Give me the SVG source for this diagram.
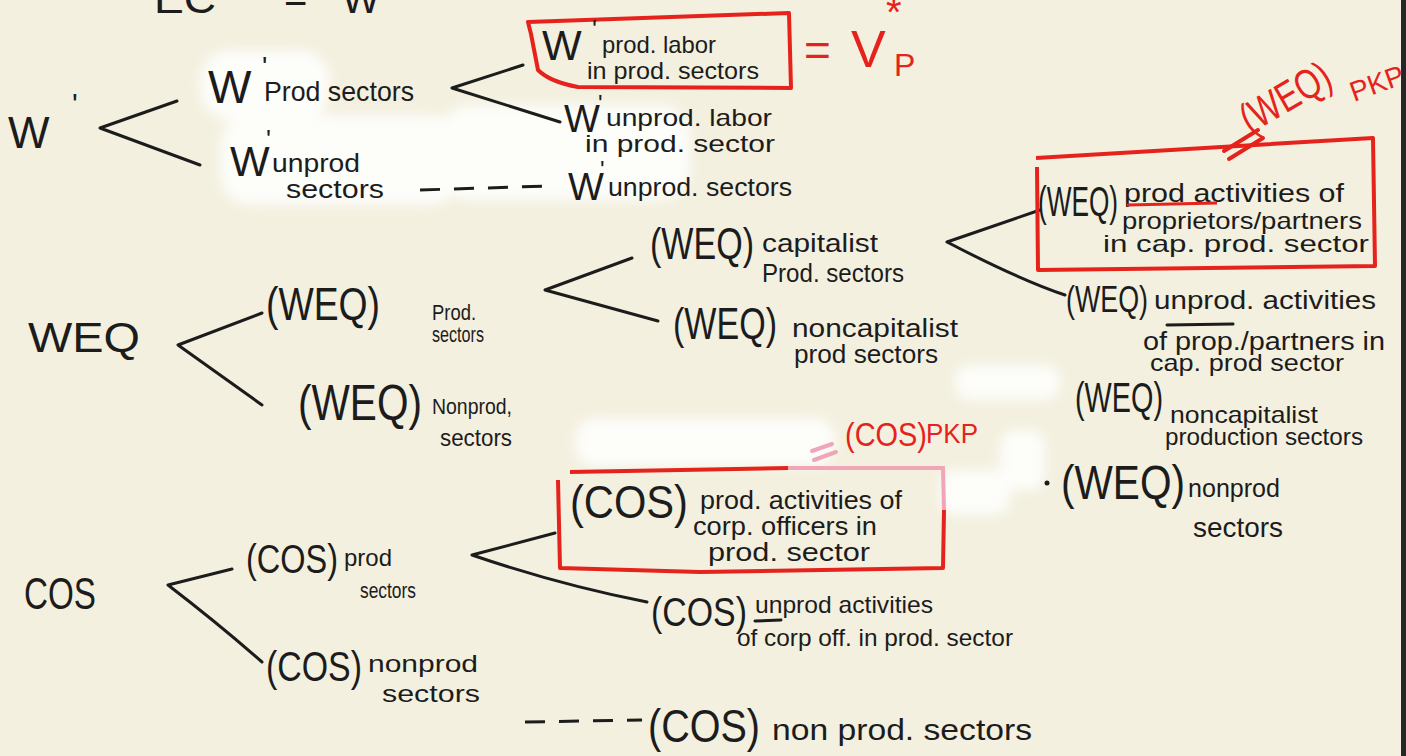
<svg xmlns="http://www.w3.org/2000/svg" width="1406" height="756" viewBox="0 0 1406 756">
<defs>
<style>
.t{font-family:"Liberation Sans","DejaVu Sans",sans-serif;fill:#1c1c1c}
.r{font-family:"Liberation Sans","DejaVu Sans",sans-serif;fill:#e5231c}
.ln{stroke:#1c1c1c;stroke-width:3;fill:none;stroke-linecap:round}
.dash{stroke:#1c1c1c;stroke-width:3;fill:none;stroke-dasharray:20 14}
.rbox{stroke:#e5231c;stroke-width:4;fill:none;stroke-linejoin:round}
.pk{stroke:#f0a6b8;stroke-width:4;fill:none}
.wp{fill:#fdfdfa}
</style>
<filter id="blur" x="-20%" y="-20%" width="140%" height="140%"><feGaussianBlur stdDeviation="6"/></filter>
</defs>
<rect width="1406" height="756" fill="#f3f0df"/>
<g id="whiteout" filter="url(#blur)">
<rect class="wp" x="200" y="50" width="130" height="70" rx="30"/>
<rect class="wp" x="220" y="115" width="240" height="90" rx="30"/>
<rect class="wp" x="440" y="105" width="250" height="95" rx="30"/>
<rect class="wp" x="575" y="418" width="260" height="48" rx="20"/>
<rect class="wp" x="955" y="365" width="105" height="35" rx="15"/>
<rect class="wp" x="1000" y="430" width="45" height="60" rx="15"/>
<rect class="wp" x="940" y="470" width="70" height="45" rx="15"/>
</g>
<rect x="1401" y="0" width="5" height="756" fill="#262626"/>

<g id="header">
<text class="t" x="154" y="13" font-size="40" textLength="62" lengthAdjust="spacingAndGlyphs">EC</text>
<text class="t" x="284" y="12" font-size="40">=</text>
<text class="t" x="342" y="13" font-size="40">W</text>
<text class="t" x="438" y="12" font-size="34">'</text>
</g>

<g id="connectors">
<path class="ln" d="M100 128 L177 101 M100 128 L200 165"/>
<path class="ln" d="M452 88 L523 65 M452 88 L560 122"/>
<path class="dash" d="M420 190 L548 186"/>
<path class="ln" d="M178 345 L262 313 M178 345 L262 405"/>
<path class="ln" d="M545 290 L632 258 M545 290 L658 321"/>
<path class="ln" d="M947 242 L1040 210 M947 242 Q1020 280 1065 295"/>
<path class="ln" d="M168 585 L232 569 M168 585 Q220 625 262 662"/>
<path class="ln" d="M472 555 L555 533 M472 555 Q560 585 647 602"/>
<path class="dash" d="M525 722 L642 720"/>
</g>

<g id="n-w">
<text class="t" x="8" y="148" font-size="44">W</text>
<text class="t" x="72" y="114" font-size="30">'</text>
</g>

<g id="n-wprod">
<text class="t" x="208" y="103" font-size="46">W</text>
<text class="t" x="262" y="76" font-size="28">'</text>
<text class="t" x="264" y="101" font-size="28" textLength="150" lengthAdjust="spacingAndGlyphs">Prod sectors</text>
</g>

<g id="n-wunprod">
<text class="t" x="230" y="176" font-size="42">W</text>
<text class="t" x="266" y="148" font-size="26">'</text>
<text class="t" x="272" y="172" font-size="26" textLength="88" lengthAdjust="spacingAndGlyphs">unprod</text>
<text class="t" x="286" y="198" font-size="26" textLength="98" lengthAdjust="spacingAndGlyphs">sectors</text>
</g>

<g id="n-wprodlabor">
<path class="rbox" d="M531 34 L528 22 L789 13 L791 88 L578 87 Q550 82 538 70 L531 34"/>
<text class="t" x="542" y="60" font-size="42">W</text>
<text class="t" x="592" y="38" font-size="26">'</text>
<text class="t" x="602" y="53" font-size="24" textLength="114" lengthAdjust="spacingAndGlyphs">prod. labor</text>
<text class="t" x="587" y="79" font-size="24" textLength="172" lengthAdjust="spacingAndGlyphs">in prod. sectors</text>
</g>

<g id="n-vp">
<text class="r" x="804" y="66" font-size="46">=</text>
<text class="r" x="851" y="67" font-size="52">V</text>
<text class="r" x="886" y="26" font-size="40">*</text>
<text class="r" x="894" y="76" font-size="32">P</text>
</g>

<g id="n-wunprodlabor">
<text class="t" x="564" y="132" font-size="38">W</text>
<text class="t" x="598" y="112" font-size="24">'</text>
<text class="t" x="606" y="126" font-size="24" textLength="166" lengthAdjust="spacingAndGlyphs">unprod. labor</text>
<text class="t" x="585" y="152" font-size="24" textLength="190" lengthAdjust="spacingAndGlyphs">in prod. sector</text>
</g>

<g id="n-wunprodsectors">
<text class="t" x="568" y="200" font-size="38">W</text>
<text class="t" x="600" y="178" font-size="24">'</text>
<text class="t" x="608" y="196" font-size="26" textLength="184" lengthAdjust="spacingAndGlyphs">unprod. sectors</text>
</g>

<g id="n-weq">
<text class="t" x="28" y="352" font-size="42" textLength="112" lengthAdjust="spacingAndGlyphs">WEQ</text>
</g>

<g id="n-weqprod">
<text class="t" x="266" y="320" font-size="46" textLength="114" lengthAdjust="spacingAndGlyphs">(WEQ)</text>
<text class="t" x="432" y="320" font-size="22" textLength="44" lengthAdjust="spacingAndGlyphs">Prod.</text>
<text class="t" x="432" y="342" font-size="22" textLength="52" lengthAdjust="spacingAndGlyphs">sectors</text>
</g>

<g id="n-weqnonprod">
<text class="t" x="298" y="420" font-size="50" textLength="124" lengthAdjust="spacingAndGlyphs">(WEQ)</text>
<text class="t" x="432" y="414" font-size="22" textLength="80" lengthAdjust="spacingAndGlyphs">Nonprod,</text>
<text class="t" x="440" y="446" font-size="24" textLength="72" lengthAdjust="spacingAndGlyphs">sectors</text>
</g>

<g id="n-weqcap">
<text class="t" x="650" y="259" font-size="44" textLength="104" lengthAdjust="spacingAndGlyphs">(WEQ)</text>
<text class="t" x="762" y="252" font-size="26" textLength="116" lengthAdjust="spacingAndGlyphs">capitalist</text>
<text class="t" x="762" y="282" font-size="26" textLength="142" lengthAdjust="spacingAndGlyphs">Prod. sectors</text>
</g>

<g id="n-weqnoncap">
<text class="t" x="673" y="339" font-size="44" textLength="104" lengthAdjust="spacingAndGlyphs">(WEQ)</text>
<text class="t" x="792" y="337" font-size="26" textLength="166" lengthAdjust="spacingAndGlyphs">noncapitalist</text>
<text class="t" x="794" y="363" font-size="26" textLength="144" lengthAdjust="spacingAndGlyphs">prod sectors</text>
</g>

<g id="n-weqprodact">
<path class="rbox" d="M1036 158 L1373 138 L1375 266 L1038 270 L1037 167"/>
<text class="t" x="1038" y="216" font-size="42" textLength="80" lengthAdjust="spacingAndGlyphs">(WEQ)</text>
<text class="t" x="1124" y="202" font-size="26" textLength="220" lengthAdjust="spacingAndGlyphs">prod activities of</text>
<path d="M1127 205 L1217 203" stroke="#e5231c" stroke-width="3" fill="none"/>
<text class="t" x="1122" y="229" font-size="24" textLength="240" lengthAdjust="spacingAndGlyphs">proprietors/partners</text>
<text class="t" x="1103" y="252" font-size="24" textLength="266" lengthAdjust="spacingAndGlyphs">in cap. prod. sector</text>
</g>

<g id="n-weqpkp">
<path d="M1224 151 L1258 130 M1229 159 L1263 138" stroke="#e5231c" stroke-width="4" fill="none" stroke-linecap="round"/>
<text class="r" x="1250" y="134" font-size="42" transform="rotate(-30 1250 134)" textLength="98" lengthAdjust="spacingAndGlyphs">(WEQ)</text>
<text class="r" x="1354" y="102" font-size="28" transform="rotate(-20 1354 102)">PKP</text>
</g>

<g id="n-wequnprodact">
<text class="t" x="1066" y="312" font-size="36" textLength="82" lengthAdjust="spacingAndGlyphs">(WEQ)</text>
<text class="t" x="1154" y="309" font-size="26" textLength="222" lengthAdjust="spacingAndGlyphs">unprod. activities</text>
<path class="ln" d="M1167 325 L1233 324"/>
<text class="t" x="1143" y="350" font-size="26" textLength="242" lengthAdjust="spacingAndGlyphs">of prop./partners in</text>
<text class="t" x="1150" y="371" font-size="24" textLength="194" lengthAdjust="spacingAndGlyphs">cap. prod sector</text>
</g>

<g id="n-weqnoncapprod">
<text class="t" x="1075" y="412" font-size="42" textLength="88" lengthAdjust="spacingAndGlyphs">(WEQ)</text>
<text class="t" x="1170" y="423" font-size="24" textLength="148" lengthAdjust="spacingAndGlyphs">noncapitalist</text>
<text class="t" x="1165" y="445" font-size="24" textLength="198" lengthAdjust="spacingAndGlyphs">production sectors</text>
</g>

<g id="n-weqnonprodsec">
<circle cx="1047" cy="483" r="2.5" fill="#1c1c1c"/>
<text class="t" x="1061" y="499" font-size="48" textLength="124" lengthAdjust="spacingAndGlyphs">(WEQ)</text>
<text class="t" x="1188" y="497" font-size="26" textLength="92" lengthAdjust="spacingAndGlyphs">nonprod</text>
<text class="t" x="1193" y="537" font-size="28" textLength="90" lengthAdjust="spacingAndGlyphs">sectors</text>
</g>

<g id="n-cos">
<text class="t" x="24" y="609" font-size="44" textLength="72" lengthAdjust="spacingAndGlyphs">COS</text>
</g>

<g id="n-cosprod">
<text class="t" x="246" y="573" font-size="40" textLength="92" lengthAdjust="spacingAndGlyphs">(COS)</text>
<text class="t" x="344" y="566" font-size="24" textLength="48" lengthAdjust="spacingAndGlyphs">prod</text>
<text class="t" x="360" y="598" font-size="22" textLength="56" lengthAdjust="spacingAndGlyphs">sectors</text>
</g>

<g id="n-cosnonprod">
<text class="t" x="266" y="681" font-size="42" textLength="96" lengthAdjust="spacingAndGlyphs">(COS)</text>
<text class="t" x="368" y="672" font-size="24" textLength="110" lengthAdjust="spacingAndGlyphs">nonprod</text>
<text class="t" x="382" y="702" font-size="24" textLength="98" lengthAdjust="spacingAndGlyphs">sectors</text>
</g>

<g id="n-cosprodact">
<path class="rbox" d="M570 472 L788 468"/>
<path class="pk" d="M788 468 L943 468 L944 510"/>
<path class="rbox" d="M944 510 L943 568 L700 572 L560 568 L558 480"/>
<text class="t" x="570" y="518" font-size="46" textLength="118" lengthAdjust="spacingAndGlyphs">(COS)</text>
<text class="t" x="700" y="509" font-size="26" textLength="202" lengthAdjust="spacingAndGlyphs">prod. activities of</text>
<text class="t" x="693" y="535" font-size="26" textLength="184" lengthAdjust="spacingAndGlyphs">corp. officers in</text>
<text class="t" x="708" y="561" font-size="26" textLength="162" lengthAdjust="spacingAndGlyphs">prod. sector</text>
</g>

<g id="n-cospkp">
<path d="M812 451 L832 444 M814 460 L836 452" stroke="#f0a6b8" stroke-width="4" fill="none" stroke-linecap="round"/>
<text class="r" x="845" y="446" font-size="34" textLength="82" lengthAdjust="spacingAndGlyphs">(COS)</text>
<text class="r" x="926" y="443" font-size="28" textLength="52" lengthAdjust="spacingAndGlyphs">PKP</text>
</g>

<g id="n-cosunprodact">
<text class="t" x="651" y="626" font-size="40" textLength="96" lengthAdjust="spacingAndGlyphs">(COS)</text>
<text class="t" x="755" y="613" font-size="24" textLength="178" lengthAdjust="spacingAndGlyphs">unprod activities</text>
<path class="ln" d="M755 621 L781 620"/>
<text class="t" x="737" y="646" font-size="24" textLength="276" lengthAdjust="spacingAndGlyphs">of corp off. in prod. sector</text>
</g>

<g id="n-cosnonprodsec">
<text class="t" x="648" y="742" font-size="46" textLength="112" lengthAdjust="spacingAndGlyphs">(COS)</text>
<text class="t" x="772" y="740" font-size="30" textLength="260" lengthAdjust="spacingAndGlyphs">non prod. sectors</text>
</g>
</svg>
